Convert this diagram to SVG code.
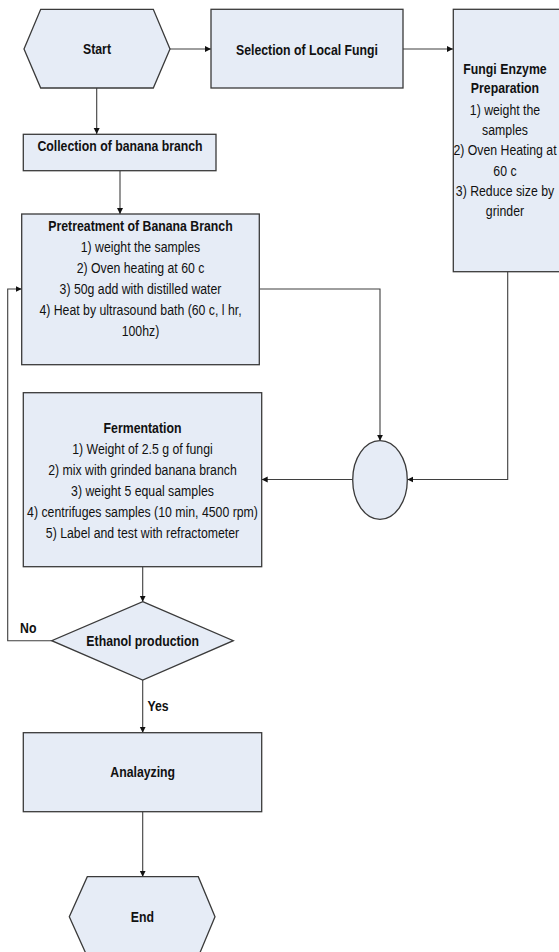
<svg xmlns="http://www.w3.org/2000/svg" width="559" height="952" viewBox="0 0 559 952">
<style>
.shape{fill:#E6ECF6;stroke:#3a3a3a;stroke-width:1.3}
.conn{fill:none;stroke:#3f3f3f;stroke-width:1.1}
text{font-family:"Liberation Sans",Arial,sans-serif;font-size:15px;fill:#111;text-anchor:middle}
.b{font-weight:bold}
</style>
<defs>
<marker id="arr" markerUnits="userSpaceOnUse" markerWidth="7" markerHeight="7" refX="6" refY="3.5" orient="auto">
<path d="M0,0.5 L6,3.5 L0,6.5 z" fill="#111"/>
</marker>
</defs>
<rect width="559" height="952" fill="#ffffff"/>
<g id="connectors">
<path class="conn" d="M170,49 L211,49" marker-end="url(#arr)"/>
<path class="conn" d="M403,49 L453,49" marker-end="url(#arr)"/>
<path class="conn" d="M96.7,88 L96.7,134" marker-end="url(#arr)"/>
<path class="conn" d="M120,171 L120,214" marker-end="url(#arr)"/>
<path class="conn" d="M259.3,289 L380,289 L380,440.7" marker-end="url(#arr)"/>
<path class="conn" d="M507.7,271.7 L507.7,479.5 L407.3,479.5" marker-end="url(#arr)"/>
<path class="conn" d="M352.7,479.5 L261.7,479.5" marker-end="url(#arr)"/>
<path class="conn" d="M142.7,566.7 L142.7,601.7" marker-end="url(#arr)"/>
<path class="conn" d="M51.7,640.7 L7.7,640.7 L7.7,289 L21.7,289" marker-end="url(#arr)"/>
<path class="conn" d="M142.7,680 L142.7,732.7" marker-end="url(#arr)"/>
<path class="conn" d="M142.7,811.7 L142.7,876.7" marker-end="url(#arr)"/>
<g transform="matrix(0.82 0 0 1 5.094 0)"><text class="b" x="28.3" y="633.3">No</text></g>
<g transform="matrix(0.82 0 0 1 28.44 0)"><text class="b" x="158" y="711">Yes</text></g>
</g>
<g id="start">
<polygon class="shape" points="40.7,9.3 153.3,9.3 170,49 153.3,88 40.7,88 24,49"/>
<g transform="matrix(0.82 0 0 1 17.46 0)"><text class="b" x="97" y="54">Start</text></g>
</g>
<g id="selection">
<rect class="shape" x="211" y="9.3" width="192" height="78.7"/>
<g transform="matrix(0.82 0 0 1 55.26 0)"><text class="b" x="307" y="55">Selection of Local Fungi</text></g>
</g>
<g id="fungi">
<rect class="shape" x="453.3" y="9.3" width="120" height="262.4"/>
<g transform="matrix(0.82 0 0 1 90.9 0)">
<text class="b" x="505" y="74.3">Fungi Enzyme</text>
<text class="b" x="505" y="93.3">Preparation</text>
<text x="505" y="115">1) weight the</text>
<text x="505" y="135">samples</text>
<text x="505" y="155">2) Oven Heating at</text>
<text x="505" y="175.7">60 c</text>
<text x="505" y="195.7">3) Reduce size by</text>
<text x="505" y="215.7">grinder</text>
</g>
</g>
<g id="collection">
<rect class="shape" x="23.3" y="134.3" width="192.7" height="36.4"/>
<g transform="matrix(0.82 0 0 1 21.6 0)"><text class="b" x="120" y="150.7">Collection of banana branch</text></g>
</g>
<g id="pretreatment">
<rect class="shape" x="21.7" y="214" width="237.6" height="150.7"/>
<g transform="matrix(0.82 0 0 1 25.29 0)">
<text class="b" x="140.5" y="231">Pretreatment of Banana Branch</text>
<text x="140.5" y="252">1) weight the samples</text>
<text x="140.5" y="273">2) Oven heating at 60 c</text>
<text x="140.5" y="294">3) 50g add with distilled water</text>
<text x="140.5" y="315">4) Heat by ultrasound bath (60 c, l hr,</text>
<text x="140.5" y="336">100hz)</text>
</g>
</g>
<g id="merge">
<ellipse class="shape" cx="380" cy="480" rx="27.3" ry="39.3"/>
</g>
<g id="fermentation">
<rect class="shape" x="23.3" y="392.7" width="238.4" height="174"/>
<g transform="matrix(0.82 0 0 1 25.65 0)">
<text class="b" x="142.5" y="432.7">Fermentation</text>
<text x="142.5" y="454">1) Weight of 2.5 g of fungi</text>
<text x="142.5" y="475">2) mix with grinded banana branch</text>
<text x="142.5" y="496">3) weight 5 equal samples</text>
<text x="142.5" y="517">4) centrifuges samples (10 min, 4500 rpm)</text>
<text x="142.5" y="538">5) Label and test with refractometer</text>
</g>
</g>
<g id="decision">
<polygon class="shape" points="142.7,601.7 233.3,640.7 142.7,680 51.7,640.7"/>
<g transform="matrix(0.82 0 0 1 25.686 0)"><text class="b" x="142.7" y="646">Ethanol production</text></g>
</g>
<g id="analyzing">
<rect class="shape" x="23.3" y="732.7" width="238.4" height="79"/>
<g transform="matrix(0.82 0 0 1 25.686 0)"><text class="b" x="142.7" y="777.3">Analayzing</text></g>
</g>
<g id="end">
<polygon class="shape" points="87.3,876.7 198.3,876.7 215,916.7 198.3,956.7 87.3,956.7 69.3,916.7"/>
<g transform="matrix(0.82 0 0 1 25.614 0)"><text class="b" x="142.3" y="921.7">End</text></g>
</g>
</svg>
